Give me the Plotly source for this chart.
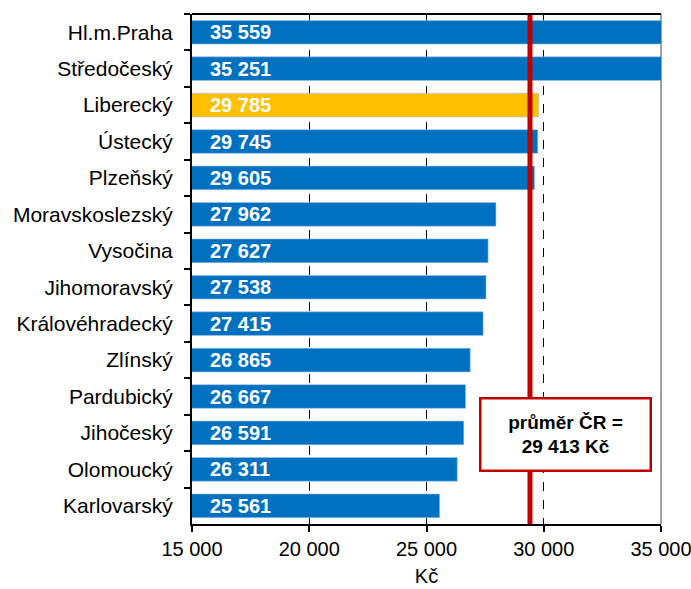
import plotly.graph_objects as go

regions = ["Hl.m.Praha", "Středočeský", "Liberecký", "Ústecký", "Plzeňský",
           "Moravskoslezský", "Vysočina", "Jihomoravský", "Královéhradecký",
           "Zlínský", "Pardubický", "Jihočeský", "Olomoucký", "Karlovarský"]
wages = [35559, 35251, 29785, 29745, 29605, 27962, 27627, 27538, 27415,
         26865, 26667, 26591, 26311, 25561]
highlight = "Liberecký"
average_cr = 29413
tick_vals = [15000, 20000, 25000, 30000, 35000]
tick_text = ["15 000", "20 000", "25 000", "30 000", "35 000"]

FONT = "Liberation Sans, Arial"

def fmt(v):
    return f"{v:,}".replace(",", " ")

colors = ["#FFC000" if r == highlight else "#0070C0" for r in regions]

fig = go.Figure()
fig.add_trace(go.Bar(
    y=regions, x=wages, orientation="h",
    marker=dict(color=colors, line=dict(color="#9DC3E6", width=0.6)),
    base=0, hoverinfo="skip",
))

for r, v in zip(regions, wages):
    fig.add_annotation(x=15000, y=r, xref="x", yref="y", text=f"<b>{fmt(v)}</b>",
                       showarrow=False, xanchor="left", xshift=16,
                       font=dict(family=FONT, size=20, color="white"))

# average line
fig.add_shape(type="line", xref="x", yref="paper", x0=average_cr, x1=average_cr,
              y0=0, y1=1, line=dict(color="#C00000", width=5), layer="above")

# top and right frame
fig.add_shape(type="line", xref="paper", yref="paper", x0=0, x1=1, y0=1, y1=1,
              line=dict(color="black", width=2), layer="above")
fig.add_shape(type="line", xref="paper", yref="paper", x0=1, x1=1, y0=0, y1=1,
              line=dict(color="#808080", width=1.5), layer="below")

PL, PR, PT, PB = 192, 661, 14, 524
fig.add_annotation(xref="paper", yref="paper",
                   x=(565.5 - PL) / (PR - PL), y=1 - (434.5 - PT) / (PB - PT),
                   xanchor="center", yanchor="middle",
                   text=f"<b>průměr ČR =<br>{fmt(average_cr)} Kč</b>",
                   showarrow=False, bgcolor="white", bordercolor="#C00000",
                   borderwidth=2.5, borderpad=4, width=160, height=62,
                   font=dict(family=FONT, size=19, color="black"))

fig.update_layout(
    width=691, height=589,
    margin=dict(l=PL, r=691 - PR, t=PT, b=589 - PB),
    plot_bgcolor="white", paper_bgcolor="white",
    showlegend=False, bargap=0.35,
    font=dict(family=FONT, size=20, color="black"),
)
fig.update_xaxes(range=[15000, 35000], tickvals=tick_vals, ticktext=tick_text,
                 automargin=False, ticklabeloverflow="allow",
                 showgrid=True, gridcolor="black", griddash="dash", gridwidth=1,
                 showline=True, linecolor="black", linewidth=2,
                 ticks="outside", ticklen=6, tickcolor="black", tickwidth=2,
                 zeroline=False, title=dict(text="Kč", font=dict(size=20), standoff=10),
                 tickfont=dict(size=20))
fig.update_yaxes(autorange="reversed", automargin=False,
                 showline=True, linecolor="black", linewidth=2,
                 ticks="outside", ticklen=6, tickcolor="black", tickwidth=2,
                 tickson="boundaries", showgrid=False, tickfont=dict(size=21),
                 ticklabelstandoff=13)

fig.write_html("out.html", config={"displayModeBar": False},
               post_script="document.body.style.margin='0';document.body.style.overflow='hidden';")
